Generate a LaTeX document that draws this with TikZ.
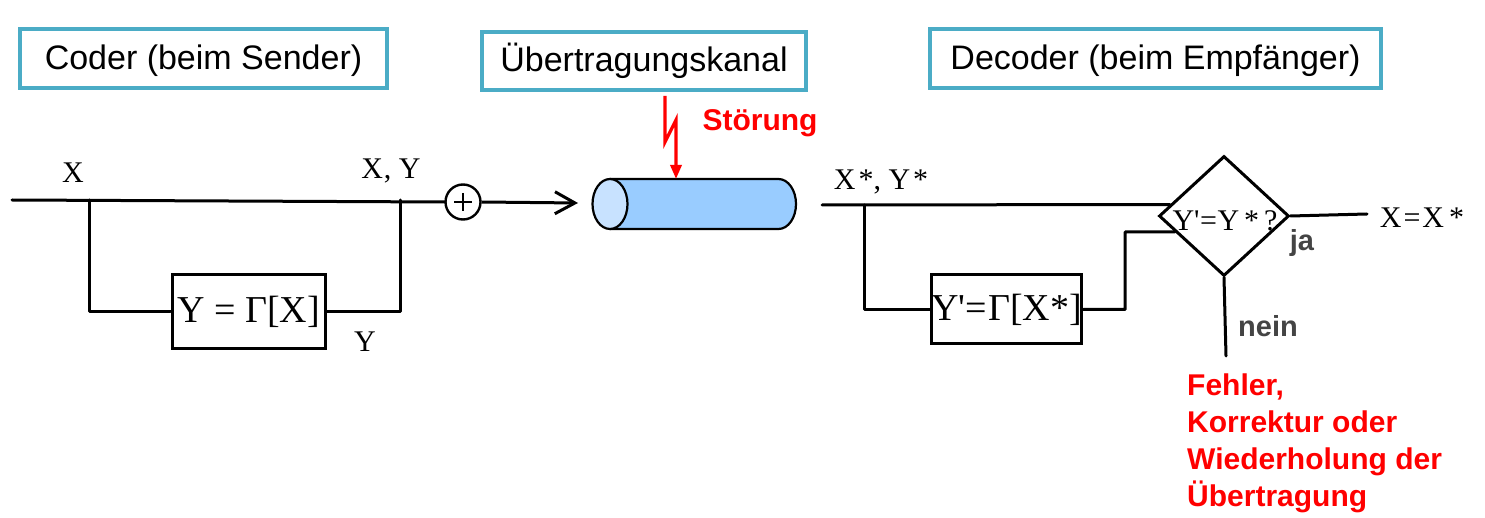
\documentclass[tikz,border=0pt]{standalone}
\usepackage{fontspec}
\setmainfont{Liberation Sans}
\newfontfamily\mathlike{Liberation Serif}
\usetikzlibrary{shapes.geometric,arrows.meta,calc}

\definecolor{frameteal}{HTML}{4BACC6}
\definecolor{pipebody}{HTML}{99CCFF}
\definecolor{pipeface}{HTML}{C8E2FF}
\definecolor{notegray}{HTML}{444444}

\tikzset{
  wire/.style={line width=3pt, line cap=round, line join=round},
  titlebox/.style={draw=frameteal, line width=4pt, fill=white, inner sep=0pt,
    text height=26pt, text depth=4pt, font=\fontsize{34}{40}\selectfont},
  funcbox/.style={draw, line width=3pt, inner sep=0pt,
    font=\mathlike\fontsize{38}{40}\selectfont},
  sym/.style={inner sep=0pt, font=\mathlike\fontsize{30}{32}\selectfont},
  warn/.style={inner sep=0pt, text=red, font=\bfseries\fontsize{30}{37}\selectfont},
  branchnote/.style={inner sep=0pt, text=notegray, font=\bfseries\fontsize{29}{32}\selectfont},
}

\begin{document}
\begin{tikzpicture}[x=1pt,y=-1pt]
\useasboundingbox (0,0) rectangle (1485,518);

% headings
\node[titlebox, minimum width=367pt, minimum height=59pt] (coder) at (203.5,58.5) {Coder (beim Sender)};
\node[titlebox, minimum width=324pt, minimum height=58pt] (kanal) at (644,61) {Übertragungskanal};
\node[titlebox, minimum width=451pt, minimum height=59pt] (decoder) at (1155.5,58.5) {Decoder (beim Empfänger)};

% ---------- coder ----------
\coordinate (xin) at (12,200);
\coordinate (xsplit) at (89,200);
\coordinate (ymerge) at (400,200);
\node[funcbox, minimum width=153pt, minimum height=74pt] (gamma) at (248.5,312) {Y = Γ[X]};
\node[draw, circle, line width=2.4pt, minimum size=35pt, inner sep=0pt] (sum) at (463,202) {};
\draw[line width=1.5pt] ($(sum.center)+(-9,0)$) -- ($(sum.center)+(9,0)$)
                        ($(sum.center)+(0,-9)$) -- ($(sum.center)+(0,9)$);

\draw[wire] (xin) -- (sum.west);
\draw[wire] (xsplit) |- (gamma.west);
\draw[wire] (gamma.east) -| (ymerge);

\node[sym] (lx) at (73,173) {X};
\node[sym] (lxy) at (391,171) {X\kern1pt, Y};
\node[sym] (ly) at (365,342) {Y};

% ---------- channel ----------
\coordinate (pipein) at (578,203);
\coordinate (pipetop) at (676,179);
\fill[pipebody] (610,179) -- (778.5,179) arc[start angle=-90, end angle=90, x radius=17.5, y radius=25] -- (610,229) -- cycle;
\draw[line width=2.2pt] (610,179) -- (778.5,179) arc[start angle=-90, end angle=90, x radius=17.5, y radius=25] -- (610,229);
\draw[line width=2.2pt, fill=pipeface] (610,204) ellipse[x radius=17.5, y radius=25];

\draw[wire, line cap=butt, -{Straight Barb[length=20pt, width=22pt, line width=3pt]}] (sum.east) -- (pipein);

% disturbance bolt
\coordinate (boltstart) at (665,96);
\draw[red, line width=3.2pt, -{Triangle[length=14pt, width=11pt]}]
  (boltstart) -- (665,142) -- (676,120) -- (pipetop);
\node[warn] (stoerung) at (760,123) {Störung};

% ---------- decoder ----------
\coordinate (rin) at (822,205);
\coordinate (rsplit) at (864,205);
\coordinate (rjoin) at (1125,232);
\node[draw, diamond, line width=3pt, minimum width=130pt, minimum height=120pt, inner sep=0pt] (check) at (1224,216) {};
\node[sym] (checktext) at (1225,221) {Y'\kern0.5pt=\kern0.5ptY\kern5pt*\kern5pt?};
\node[funcbox, minimum width=141pt, minimum height=69pt] (gamma2) at (1006.5,309.5) {Y'\kern0pt=\kern1.5ptΓ[X*]};

\draw[wire] (rin) -- (check.168);
\draw[wire] (rsplit) |- (gamma2.west);
\draw[wire] (gamma2.east) -| (rjoin) -- (check.198);

\coordinate (okend) at (1367,214);
\coordinate (failend) at (1226,356);
\draw[wire] (check.east) -- (okend);
\draw[wire] (check.south) -- (failend);

\node[sym] (lxy2) at (881,182) {X\kern3pt*, Y\kern3pt*};
\node[sym] (lres) at (1422,218) {X\kern2pt=\kern2ptX\kern5pt*};
\node[branchnote] (ja) at (1302,243) {ja};
\node[branchnote] (nein) at (1268,326) {nein};

\node[warn, align=left, anchor=north west] (fehler) at (1187,374)
  {Fehler,\\Korrektur oder\\Wiederholung der\\Übertragung};
\end{tikzpicture}
\end{document}
